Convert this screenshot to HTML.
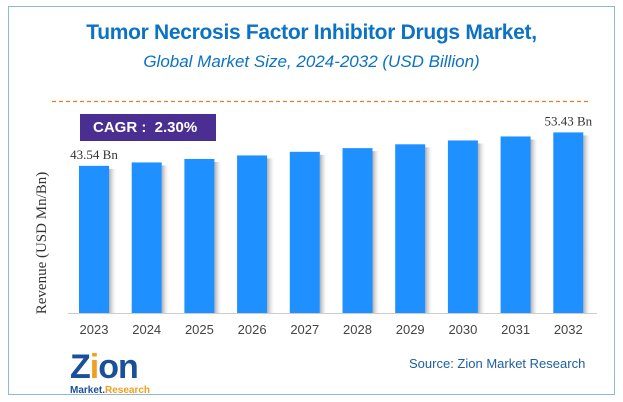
<!DOCTYPE html>
<html><head><meta charset="utf-8"><style>
body{margin:0;width:623px;height:402px;background:#fff;position:relative;overflow:hidden;font-family:"Liberation Sans",sans-serif}
.frame{position:absolute;left:8px;top:6px;width:605px;height:387px;border:1px solid #8fb8e0}
.t{position:absolute;left:0;width:623px;text-align:center;color:#0b72c4}
</style></head><body>
<div class="frame"></div>
<div class="t" style="top:21px;font-size:21px;font-weight:bold;letter-spacing:-0.3px">Tumor Necrosis Factor Inhibitor Drugs Market,</div>
<div class="t" style="top:52px;font-size:17px;font-style:italic">Global Market Size, 2024-2032 (USD Billion)</div>
<svg width="623" height="402" style="position:absolute;left:0;top:0"><line x1="52" x2="590" y1="101.5" y2="101.5" stroke="#f07a20" stroke-width="1.2" stroke-dasharray="4,3"/></svg>
<div style="position:absolute;left:80px;top:114px;width:136px;height:27px;background:#4b2e91;color:#fff;font-weight:bold;font-size:15px;line-height:27px;box-sizing:border-box;padding-left:13px">CAGR :&nbsp; 2.30%</div>
<svg id="c" width="623" height="402" style="position:absolute;left:0;top:0">
<defs><linearGradient id="sh" x1="0" x2="1"><stop offset="0" stop-color="#777" stop-opacity="0.6"/><stop offset="1" stop-color="#ccc" stop-opacity="0"/></linearGradient></defs>
</svg>
<div style="position:absolute;left:409px;top:356px;font-size:13px;color:#1f5fa0">Source: Zion Market Research</div>
<div style="position:absolute;left:70px;top:348px;font-size:34px;font-weight:bold;color:#1a4f9a;letter-spacing:-1px">Z<span style="color:#f0a020">i</span>on</div>
<div style="position:absolute;left:70px;top:385px;font-size:10px;font-weight:bold;color:#1a4f9a">Market.<span style="color:#f0a020">Research</span></div>
<script>
const years=["2023","2024","2025","2026","2027","2028","2029","2030","2031","2032"];
const values=[43.54,44.54,45.57,46.62,47.69,48.78,49.91,51.05,52.23,53.43];
const valueLabels=["43.54 Bn","","","","","","","","","53.43 Bn"];
const svg=document.getElementById('c');const NS="http://www.w3.org/2000/svg";
const base=313,scale=3.38,x0=79,step=52.7,bw=30;
const xs=i=>x0+i*step, ys=v=>base-v*scale;
function mk(t,a){const e=document.createElementNS(NS,t);for(const k in a)e.setAttribute(k,a[k]);svg.appendChild(e);return e;}
let ax=mk('line',{x1:68,x2:597,y1:base+0.5,y2:base+0.5,stroke:'#ccc'});


values.forEach((v,i)=>{
 let s=mk('rect',{x:xs(i)+bw,y:ys(v)+3,width:7,height:base-ys(v)-3,fill:'url(#sh)'});
 
 
 let r=mk('rect',{x:xs(i),y:ys(v),width:bw,height:base-ys(v),fill:'#1e90ff'});
 
 
 let t=mk('text',{x:xs(i)+bw/2,y:334,'text-anchor':'middle','font-size':13,fill:'#444','font-family':'Liberation Sans'});
 t.textContent=years[i];
 
 
 if(valueLabels[i]){let l=mk('text',{x:xs(i)+bw/2,y:ys(v)-7,'text-anchor':'middle','font-size':13,fill:'#333','font-family':'Liberation Serif'});
 l.textContent=valueLabels[i];
 
 }
});
let yt=mk('text',{x:0,y:0,transform:'translate(46,243) rotate(-90)','text-anchor':'middle','font-size':15,fill:'#333','font-family':'Liberation Serif'});
yt.textContent='Revenue (USD Mn/Bn)';


</script>
</body></html>
